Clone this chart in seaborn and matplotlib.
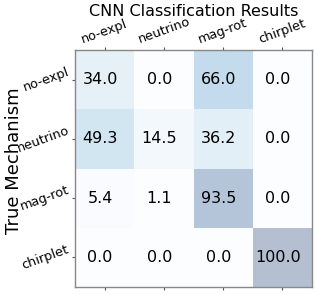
import numpy as np
import pandas as pd
import matplotlib
matplotlib.use("Agg")
import matplotlib.pyplot as plt
import matplotlib.transforms as mtransforms
import seaborn as sns

labels = ["no-expl", "neutrino", "mag-rot", "chirplet"]
row_noexpl = [34.0, 0.0, 66.0, 0.0]
row_neutrino = [49.3, 14.5, 36.2, 0.0]
row_magrot = [5.4, 1.1, 93.5, 0.0]
row_chirplet = [0.0, 0.0, 0.0, 100.0]

df = pd.DataFrame([row_noexpl, row_neutrino, row_magrot, row_chirplet],
                  index=labels, columns=labels)

fig = plt.figure(figsize=(3.16, 2.94), dpi=100)
ax = fig.add_axes([75/316, 1 - 287/294, 237/316, 237/294])
sns.heatmap(df, ax=ax, cmap="Blues", alpha=0.3, vmin=0, vmax=100,
            annot=True, fmt=".1f", annot_kws={"fontsize": 11.5, "color": "black"},
            cbar=False, square=False)
shift = mtransforms.ScaledTranslation(-4.5/100, 0, fig.dpi_scale_trans)
for t in ax.texts:
    t.set_transform(t.get_transform() + shift)
ax.tick_params(top=True, labeltop=True, bottom=True, labelbottom=False,
               left=True, length=2.5, width=0.8, pad=0.5, color="#555555", labelsize=9.3)
ax.set_xticklabels(labels, rotation=20, ha="center")
ax.set_yticklabels(labels, rotation=20, va="center")
for s in ax.spines.values():
    s.set_visible(True)
    s.set_color("#888888")
    s.set_linewidth(1.0)
ax.set_xlabel("")
ax.set_ylabel("")
fig.text(193.5/316, 1 - 4/294, "CNN Classification Results", fontsize=11.5,
         ha="center", va="top")
fig.text(14/316, 1 - 161/294, "True Mechanism", fontsize=13,
         ha="center", va="center", rotation=90)
fig.savefig("out.png", dpi=100)
